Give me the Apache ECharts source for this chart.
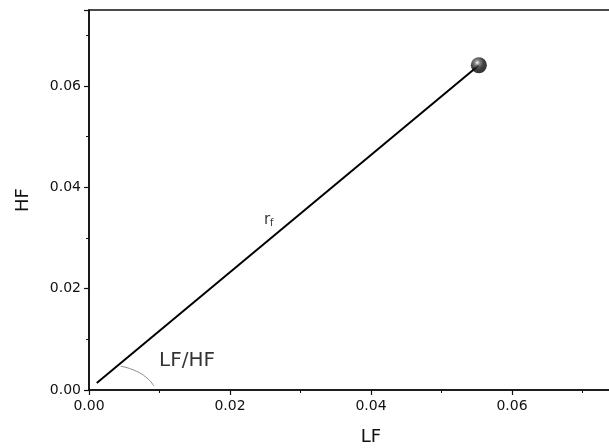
<!DOCTYPE html>
<html>
<head>
<meta charset="utf-8">
<script src="https://cdn.jsdelivr.net/npm/echarts@6/dist/echarts.min.js"></script>
<style>
  html, body { margin: 0; padding: 0; background: #fff; overflow: hidden; width: 609px; height: 448px; }
  #chart { width: 653px; height: 448px; }
</style>
</head>
<body>
<div id="chart"></div>
<script>
// Vector from near the origin to the (LF, HF) operating point
const vectorLF = [0.0011, 0.0553];
const vectorHF = [0.0014, 0.0641];
// End point drawn as a shaded ball
const pointLF = [0.0553];
const pointHF = [0.0641];
// Angle marker between the vector and the LF axis
const arcLF = [0.0045, 0.0064, 0.0082, 0.0092];
const arcHF = [0.0047, 0.0039, 0.0024, 0.0008];
// Text annotations placed in data coordinates
const labelVector = { lf: 0.0255, hf: 0.0336 };
const labelRatio = { lf: 0.0139, hf: 0.0057, text: 'LF/HF' };
// Axis settings
const xTicks = { min: 0, max: 0.08, step: 0.02 };
const yTicks = { min: 0, max: 0.075, step: 0.02 };

const zip = (a, b) => a.map((v, i) => [v, b[i]]);
const font = '"DejaVu Sans", Arial, sans-serif';
const ink = '#111';

const chart = echarts.init(document.getElementById('chart'), null, { renderer: 'canvas' });

const axisCommon = {
  type: 'value',
  nameLocation: 'middle',
  nameTextStyle: { fontFamily: font, fontSize: 18, color: ink },
  axisLine: { show: true, onZero: false, lineStyle: { color: ink, width: 1.6 } },
  axisTick: { show: true, inside: false, length: 5, lineStyle: { color: ink, width: 1.2 } },
  minorTick: { show: true, splitNumber: 2, length: 3, lineStyle: { color: ink, width: 1 } },
  axisLabel: { fontFamily: font, fontSize: 14, color: ink, formatter: v => v.toFixed(2) },
  splitLine: { show: false }
};

chart.setOption({
  animation: false,
  backgroundColor: '#fff',
  grid: {
    left: 89, top: 10, bottom: 58, right: 0,
    containLabel: false,
    outerBoundsMode: 'none',
    show: true, borderColor: ink, borderWidth: 1.6, backgroundColor: 'transparent'
  },
  xAxis: Object.assign({}, axisCommon, {
    name: 'LF', nameGap: 38,
    min: xTicks.min, max: xTicks.max, interval: xTicks.step,
    axisLabel: Object.assign({}, axisCommon.axisLabel, {
      margin: 9,
      formatter: v => (v >= xTicks.max - 1e-9 ? '' : v.toFixed(2))
    })
  }),
  yAxis: Object.assign({}, axisCommon, {
    name: 'HF', nameGap: 57,
    min: yTicks.min, max: yTicks.max, interval: yTicks.step,
    axisLabel: Object.assign({}, axisCommon.axisLabel, {
      margin: 8,
      showMaxLabel: false
    })
  }),
  series: [
    {
      type: 'line',
      data: zip(vectorLF, vectorHF),
      symbol: 'none',
      lineStyle: { color: '#000', width: 2 },
      z: 3
    },
    {
      type: 'line',
      data: zip(arcLF, arcHF),
      symbol: 'none',
      smooth: true,
      lineStyle: { color: '#8a8a8a', width: 1 },
      z: 2
    },
    {
      type: 'scatter',
      data: zip(pointLF, pointHF),
      symbolSize: 16,
      itemStyle: {
        color: {
          type: 'radial', x: 0.4, y: 0.34, r: 0.66,
          colorStops: [
            { offset: 0, color: '#f4f4f4' },
            { offset: 0.25, color: '#666' },
            { offset: 0.6, color: '#111' },
            { offset: 1, color: '#000' }
          ]
        }
      },
      z: 5
    },
    {
      type: 'scatter',
      data: [[labelVector.lf, labelVector.hf], [labelRatio.lf, labelRatio.hf]],
      symbolSize: 1,
      itemStyle: { color: 'transparent' },
      silent: true,
      label: {
        show: true,
        position: 'inside',
        fontFamily: font,
        color: '#000',
        formatter: p => (p.dataIndex === 0 ? '{r|r}{s|f}' : '{t|' + labelRatio.text + '}'),
        rich: {
          r: { fontFamily: font, fontSize: 15, color: '#000' },
          s: { fontFamily: font, fontSize: 10, color: '#000', padding: [8, 0, 0, 0] },
          t: { fontFamily: font, fontSize: 20, color: '#000' }
        }
      },
      z: 4
    }
  ]
});
</script>
</body>
</html>
